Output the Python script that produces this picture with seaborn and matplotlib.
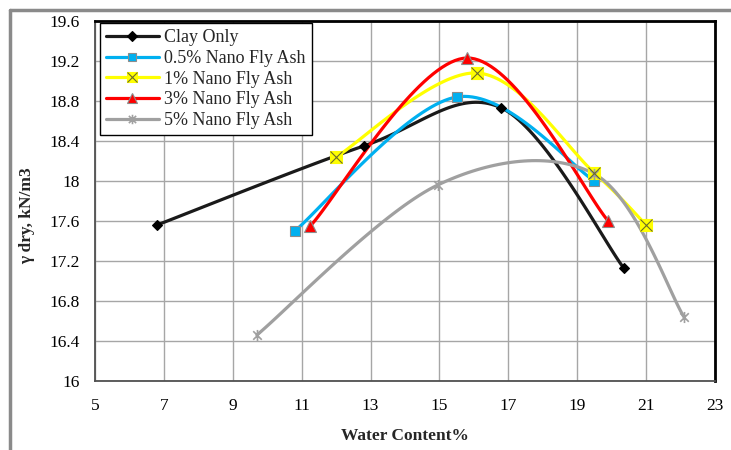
import numpy as np
import pandas as pd
import matplotlib
matplotlib.use("Agg")
import matplotlib.pyplot as plt
import seaborn as sns
from matplotlib.lines import Line2D
from matplotlib.path import Path

# Compaction test results: dry unit weight vs. water content
series_names = ["Clay Only", "0.5% Nano Fly Ash", "1% Nano Fly Ash",
                "3% Nano Fly Ash", "5% Nano Fly Ash"]

clay_w = [6.8, 12.8, 16.8, 20.35]
clay_g = [17.56, 18.35, 18.73, 17.13]

fa05_w = [10.8, 15.5, 19.5]
fa05_g = [17.50, 18.84, 18.00]

fa1_w = [12.0, 16.1, 19.5, 21.0]
fa1_g = [18.24, 19.08, 18.08, 17.56]

fa3_w = [11.25, 15.8, 19.9]
fa3_g = [17.55, 19.23, 17.60]

fa5_w = [9.7, 14.95, 19.5, 22.1]
fa5_g = [16.46, 17.96, 18.07, 16.64]

x_ticks = [5, 7, 9, 11, 13, 15, 17, 19, 21, 23]
y_ticks = [16, 16.4, 16.8, 17.2, 17.6, 18, 18.4, 18.8, 19.2, 19.6]
y_tick_labels = ["16", "16.4", "16.8", "17.2", "17.6", "18", "18.4", "18.8", "19.2", "19.6"]

sns.set_style("white")
plt.rcParams["font.family"] = ["Liberation Serif", "DejaVu Serif"]


def smooth_path(xs, ys, n=40):
    """Cubic Bezier smoothing through the points (Catmull-Rom style, tension 1/6)."""
    p = np.column_stack([xs, ys]).astype(float)
    m = len(p)
    out = []
    for i in range(m - 1):
        p0 = p[i - 1] if i > 0 else p[i]
        p1 = p[i]
        p2 = p[i + 1]
        p3 = p[i + 2] if i + 2 < m else p[i + 1]
        c1 = p1 + (p2 - p0) / 6.0
        c2 = p2 - (p3 - p1) / 6.0
        t = np.linspace(0, 1, n)[:, None]
        seg = ((1 - t) ** 3) * p1 + 3 * ((1 - t) ** 2) * t * c1 + 3 * (1 - t) * t ** 2 * c2 + t ** 3 * p2
        if i > 0:
            seg = seg[1:]
        out.append(seg)
    return np.vstack(out)


# asterisk marker: x with a vertical bar
star_path = Path([(-1, -1), (1, 1), (-1, 1), (1, -1), (0, -1.3), (0, 1.3)],
                 [Path.MOVETO, Path.LINETO, Path.MOVETO, Path.LINETO, Path.MOVETO, Path.LINETO])

styles = [
    dict(name=series_names[0], w=clay_w, g=clay_g, color="#1a1a1a",
         marker="D", mfc="#000000", mec="#000000", ms=5.5, mew=0.8),
    dict(name=series_names[1], w=fa05_w, g=fa05_g, color="#00b0f0",
         marker="s", mfc="#00b0f0", mec="#8c8c8c", ms=7, mew=0.8),
    dict(name=series_names[2], w=fa1_w, g=fa1_g, color="#ffff00",
         marker="s", mfc="#ffff00", mec="#ffff00", ms=8.5, mew=0.8),
    dict(name=series_names[3], w=fa3_w, g=fa3_g, color="#ff0000",
         marker="^", mfc="#ff0000", mec="#8c8c8c", ms=8, mew=0.8),
    dict(name=series_names[4], w=fa5_w, g=fa5_g, color="#a0a0a0",
         marker=star_path, mfc="none", mec="#a0a0a0", ms=8, mew=1.2),
]

fig = plt.figure(figsize=(7.31, 4.50), dpi=100)
ax = fig.add_axes([95 / 731, 1 - 381 / 450, 620 / 731, 360 / 450])

handles = []
for st in styles:
    curve = smooth_path(st["w"], st["g"])
    df = pd.DataFrame({"w": curve[:, 0], "g": curve[:, 1]})
    sns.lineplot(data=df, x="w", y="g", sort=False, estimator=None,
                 color=st["color"], lw=2.3, ax=ax, legend=False, zorder=3)
    ax.plot(st["w"], st["g"], ls="none", marker=st["marker"], ms=st["ms"],
            mfc=st["mfc"], mec=st["mec"], mew=st["mew"], zorder=4)
    h = Line2D([], [], color=st["color"], lw=2.3, marker=st["marker"], ms=st["ms"] * 0.85,
               mfc=st["mfc"], mec=st["mec"], mew=st["mew"])
    if st["name"] == series_names[2]:
        ax.plot(st["w"], st["g"], ls="none", marker="x", ms=8.5, mec="#6b6b2a", mew=0.8, zorder=5)
        hx = Line2D([], [], ls="none", marker="x", ms=8.5 * 0.85, mec="#6b6b2a", mew=0.8)
        h = (h, hx)
    handles.append(h)

ax.set_xlim(5, 23)
ax.set_ylim(16, 19.6)
ax.set_xticks(x_ticks)
ax.set_xticklabels([str(v) for v in x_ticks])
ax.set_yticks(y_ticks)
ax.set_yticklabels(y_tick_labels)
ax.tick_params(axis="both", labelsize=12.5, length=0, colors="#000000")
ax.tick_params(axis="y", pad=11)
ax.tick_params(axis="x", pad=12)

ax.grid(True, color="#a6a6a6", lw=1.0)
ax.set_axisbelow(True)

for side in ["top", "right"]:
    ax.spines[side].set_color("#000000")
    ax.spines[side].set_linewidth(2.0)
for side in ["left", "bottom"]:
    ax.spines[side].set_color("#505050")
    ax.spines[side].set_linewidth(1.3)

ax.set_xlabel("Water Content%", fontsize=12.5, fontweight="bold", labelpad=10)
ax.set_ylabel("γ dry, kN/m3", fontsize=12.5, fontweight="bold")
ax.yaxis.label.set_va("center")
ax.yaxis.set_label_coords((27 - 95) / 620, (381 - 216) / 360)

leg = ax.legend(handles, series_names, loc="upper left", bbox_to_anchor=(0.008, 0.994),
                borderaxespad=0, fontsize=13, frameon=True, fancybox=False,
                edgecolor="#000000", framealpha=1, handlelength=2.9, handletextpad=0.3,
                labelspacing=0.2, borderpad=0.35, numpoints=1)
leg.get_frame().set_linewidth(1.0)
leg.set_zorder(10)

# outer frame on the top and left edges
fig.add_artist(Line2D([10 / 731, 1.0], [1 - 10 / 450, 1 - 10 / 450],
                      transform=fig.transFigure, color="#8a8a8a", lw=2.5))
fig.add_artist(Line2D([10 / 731, 10 / 731], [0, 1 - 10 / 450],
                      transform=fig.transFigure, color="#8a8a8a", lw=2.5))

fig.savefig("out.png", dpi=100, facecolor="white")
